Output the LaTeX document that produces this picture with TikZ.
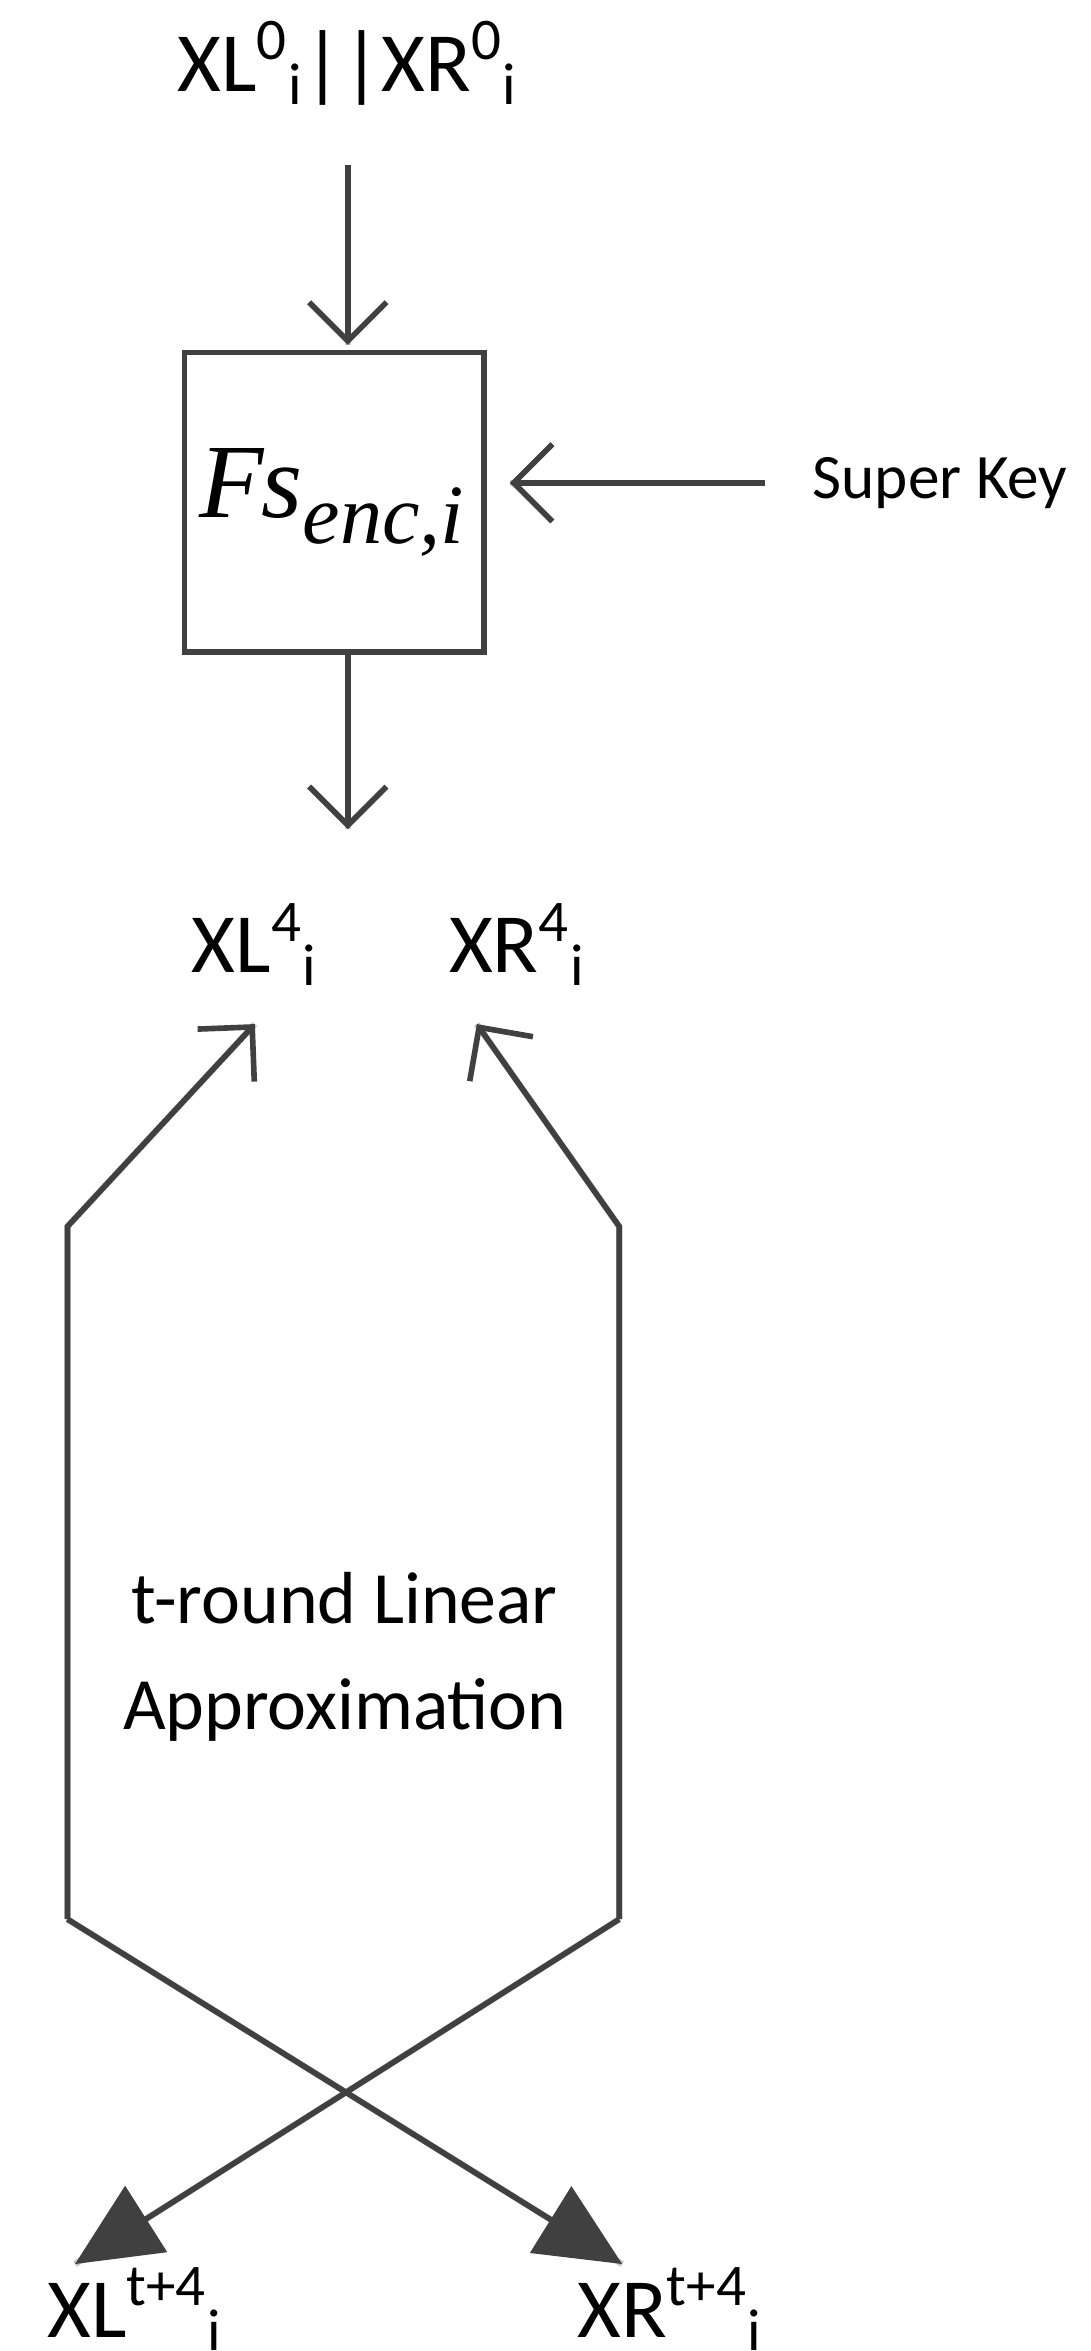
\documentclass[tikz,border=0pt]{standalone}
\usepackage{fontspec}
\setmainfont{Carlito}
\newfontfamily\tms{Liberation Serif}
\usetikzlibrary{arrows.meta}
\begin{document}
\begin{tikzpicture}[x=0.15mm,y=-0.15mm,
  ln/.style={draw=black!75,line width=1.6pt},
  sh/.style={draw=black!22,line width=1.8pt},
  barb/.style={-{Straight Barb[length=11,width=22,line width=1.6pt]}},
  tri/.style={-{Triangle[length=24,width=22]}},
  lbl/.style={font=\fontsize{24}{28}\selectfont,inner sep=0pt}]
\useasboundingbox (0,0) rectangle (727,1568);
\node[lbl] (top) at (232,42) {XL\textsuperscript{0}\textsubscript{i}||XR\textsuperscript{0}\textsubscript{i}};
\node[draw=black!75,line width=1.6pt,minimum size=200*0.15mm,inner sep=0pt] (box) at (223,335) {};
\node[inner sep=0pt] at (222,335) {\tms\itshape\fontsize{30}{34}\selectfont F\kern-0.02em s$_{\mbox{\tms\itshape\fontsize{24}{26}\selectfont enc,i}}$};
\node[font=\fontsize{18}{21}\selectfont,inner sep=0pt] (sk) at (627,322) {Super Key};
\node[lbl] (xl4) at (170,630) {XL\textsuperscript{4}\textsubscript{i}};
\node[lbl] (xr4) at (345,630) {XR\textsuperscript{4}\textsubscript{i}};
\node[font=\fontsize{21}{30}\selectfont,align=center,inner sep=0pt] (tr) at (230,1105) {t-round Linear\\Approximation};
\node[lbl] (xlt) at (90,1540) {XL\textsuperscript{t+4}\textsubscript{i}};
\node[lbl] (xrt) at (447,1540) {XR\textsuperscript{t+4}\textsubscript{i}};
\coordinate (a1) at (232,110); \coordinate (a2) at (232,230);
\coordinate (b1) at (232,437); \coordinate (b2) at (232,553);
\coordinate (k1) at (510,322); \coordinate (k2) at (340,322);
\coordinate (l1) at (45,1280); \coordinate (l2) at (45,818); \coordinate (l3) at (170,683);
\coordinate (r1) at (413,1280); \coordinate (r2) at (413,818); \coordinate (r3) at (318,683);
\coordinate (c1) at (415,1510); \coordinate (c2) at (50,1510);
% shadows
\begin{scope}[shift={(3,3)}]
\draw[sh] (l1)--(l2)--(l3); \draw[sh] (r1)--(r2)--(r3);
\draw[sh] (l1)--(c1); \draw[sh] (r1)--(c2);
\draw[sh] (a1)--(a2); \draw[sh] (b1)--(b2); \draw[sh] (k1)--(k2);
\end{scope}
\draw[ln,barb] (a1)--(a2);
\draw[ln,barb] (b1)--(b2);
\draw[ln,barb] (k1)--(k2);
\draw[ln,barb] (l1)--(l2)--(l3);
\draw[ln,barb] (r1)--(r2)--(r3);
\draw[ln,tri] (l1)--(c1);
\draw[ln,tri] (r1)--(c2);
\end{tikzpicture}
\end{document}
